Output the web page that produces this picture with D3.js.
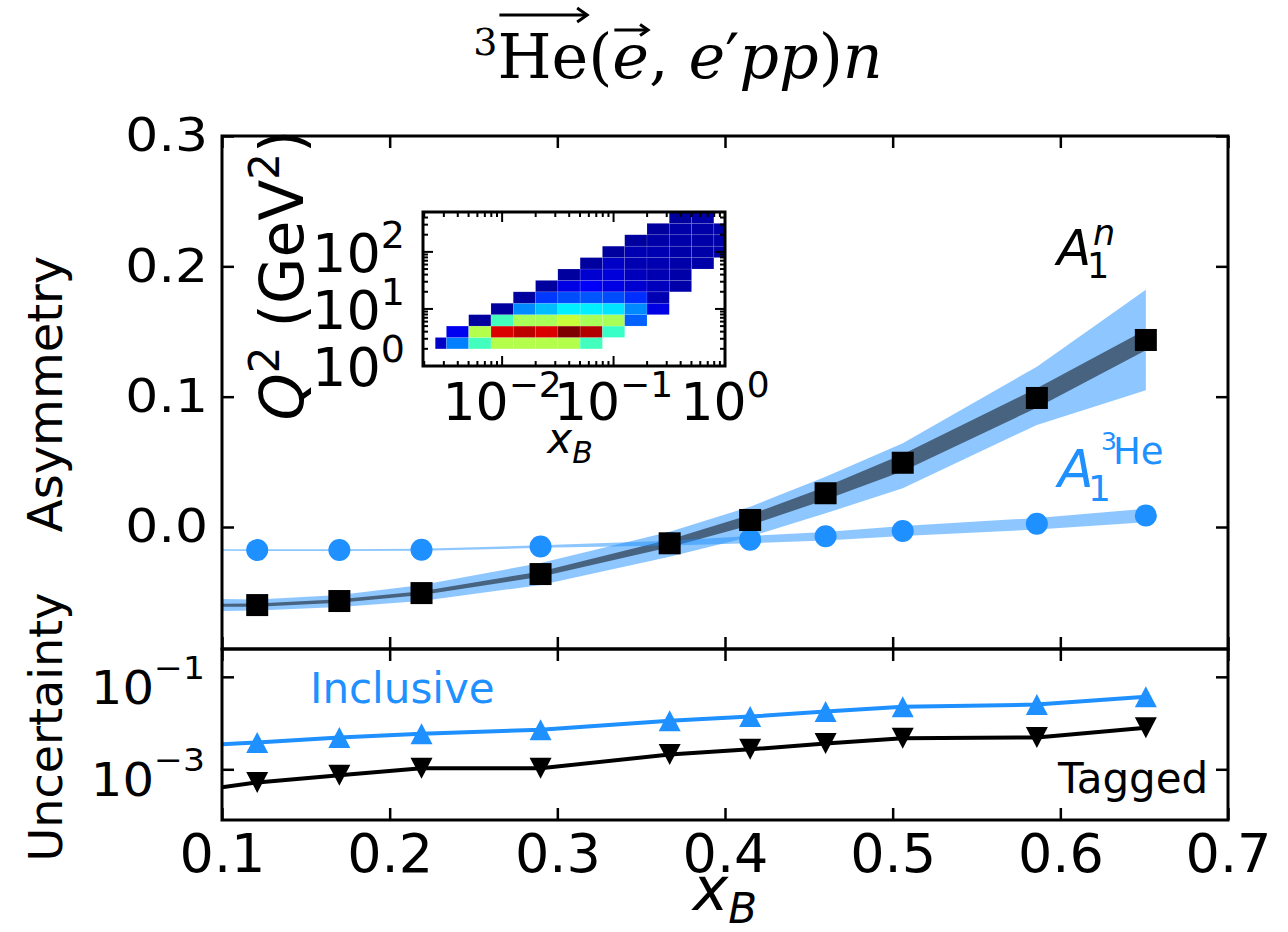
<!DOCTYPE html>
<html>
<head>
<meta charset="utf-8">
<script src="https://cdn.jsdelivr.net/npm/d3@7"></script>
<style>
body { margin: 0; background: #fff; }
text { font-family: "DejaVu Sans", sans-serif; fill: #000; }
</style>
</head>
<body>
<svg width="1288" height="932"></svg>
<script>
// x_B of the measured points
const xB = [0.121, 0.170, 0.219, 0.290, 0.367, 0.415, 0.460, 0.506, 0.586, 0.651];
// curves start at the left frame (x_B = 0.1); first entry of each curve array is that edge value
const xCurve = [0.1].concat(xB);

// upper panel: A1n with its band, A1 3He
const a1n     = [-0.0600, -0.0599, -0.0568, -0.0507, -0.0361, -0.0125, 0.0054, 0.0259, 0.0493, 0.099, 0.1435];
const a1nHi   = [-0.0552, -0.0556, -0.0522, -0.0445, -0.0276, -0.0036, 0.0156, 0.0386, 0.0642, 0.123, 0.182];
const a1nLo   = [-0.0645, -0.0641, -0.0614, -0.0568, -0.0445, -0.0228, -0.0074, 0.0105, 0.0297, 0.0783, 0.105];
const a1nStat = [0.0012, 0.0012, 0.0013, 0.0015, 0.002, 0.003, 0.004, 0.005, 0.0065, 0.0075, 0.0078];
const a1he    = [-0.0177, -0.0177, -0.0177, -0.0175, -0.0150, -0.0123, -0.0097, -0.0071, -0.0031, 0.0025, 0.0088];
const a1heErr = [0.0006, 0.0007, 0.0007, 0.0008, 0.0010, 0.0018, 0.0028, 0.0033, 0.0038, 0.0045, 0.0052];

// lower panel: uncertainties
const inclusive = [0.00347, 0.0038, 0.0049, 0.0059, 0.0072, 0.0112, 0.0138, 0.0178, 0.0224, 0.0251, 0.0372];
const tagged    = [0.00041, 0.00052, 0.00074, 0.00105, 0.00105, 0.0021, 0.0027, 0.0036, 0.0047, 0.0049, 0.0079];

const yTicksUp = [0, 0.1, 0.2, 0.3];
const yTicksLo = [1e-1, 1e-3];
const xTicks = [0.1, 0.2, 0.3, 0.4, 0.5, 0.6, 0.7];

// inset: log10 bin edges and colour level (0..1 on jet) per Q2 row, low to high; null = empty
const xBinLog = [-2.6, -2.5, -2.3, -2.1, -1.9, -1.7, -1.5, -1.3, -1.1, -0.9, -0.7, -0.5, -0.3, -0.1, 0.1];
const qBinLog = [0.3, 0.5, 0.7, 0.9, 1.1, 1.3, 1.5, 1.7, 1.9, 2.1, 2.3, 2.5, 2.7];
const n = null;
const heat = [
  [0.07, 0.25, 0.44, 0.55, 0.55, 0.55, 0.55, 0.44, n, n, n, n, n, n],
  [n, 0.11, 0.55, 0.91, 0.94, 0.91, 1.0, 0.95, 0.43, n, n, n, n, n],
  [n, n, 0.03, 0.44, 0.54, 0.54, 0.57, 0.54, 0.54, 0.22, n, n, n, n],
  [n, n, n, 0.03, 0.26, 0.31, 0.36, 0.36, 0.35, 0.26, 0.10, n, n, n],
  [n, n, n, n, 0.03, 0.18, 0.20, 0.21, 0.20, 0.17, 0.05, n, n, n],
  [n, n, n, n, n, 0.03, 0.10, 0.12, 0.10, 0.08, 0.06, 0.04, n, n],
  [n, n, n, n, n, n, 0.03, 0.08, 0.09, 0.06, 0.05, 0.04, n, n],
  [n, n, n, n, n, n, n, 0.03, 0.07, 0.05, 0.05, 0.04, 0.04, n],
  [n, n, n, n, n, n, n, n, 0.03, 0.05, 0.05, 0.04, 0.04, 0.04],
  [n, n, n, n, n, n, n, n, n, 0.03, 0.04, 0.04, 0.04, 0.04],
  [n, n, n, n, n, n, n, n, n, n, 0.03, 0.04, 0.04, 0.04],
  [n, n, n, n, n, n, n, n, n, n, n, 0.03, 0.04, n]
];

var blue = '#1e90ff';
var svg = d3.select('svg');

var X0 = 222, X1 = 1228, YT = 136, YM = 649, YB = 820;
var x = d3.scaleLinear().domain([0.1, 0.7]).range([X0, X1]);
var yUp = d3.scaleLinear().domain([-0.0936, 0.3]).range([YM, YT]);
var yLo = d3.scaleLog().domain([8e-5, 0.4]).range([YB, YM]);

var defs = svg.append('defs');
defs.append('clipPath').attr('id', 'cu').append('rect')
  .attr('x', X0).attr('y', YT).attr('width', X1 - X0).attr('height', YM - YT);
defs.append('clipPath').attr('id', 'cl').append('rect')
  .attr('x', X0).attr('y', YM).attr('width', X1 - X0).attr('height', YB - YM);

// ---- upper panel
var up = svg.append('g').attr('clip-path', 'url(#cu)');

var band = (lo, hi, ys) => d3.area()
  .x((d, i) => x(xCurve[i]))
  .y0((d, i) => ys(lo[i]))
  .y1((d, i) => ys(hi[i]));

up.append('path').attr('d', band(a1nLo, a1nHi, yUp)(xCurve))
  .attr('fill', blue).attr('fill-opacity', 0.5);
up.append('path')
  .attr('d', band(a1n.map((v, i) => v - a1nStat[i]), a1n.map((v, i) => v + a1nStat[i]), yUp)(xCurve))
  .attr('fill', '#000').attr('fill-opacity', 0.5);
up.append('path')
  .attr('d', band(a1he.map((v, i) => v - a1heErr[i]), a1he.map((v, i) => v + a1heErr[i]), yUp)(xCurve))
  .attr('fill', blue).attr('fill-opacity', 0.5);

up.selectAll('circle.he').data(a1he.slice(1)).enter().append('circle')
  .attr('cx', (d, i) => x(xB[i])).attr('cy', d => yUp(d)).attr('r', 11)
  .attr('fill', blue);
up.selectAll('rect.an').data(a1n.slice(1)).enter().append('rect')
  .attr('x', (d, i) => x(xB[i]) - 11).attr('y', d => yUp(d) - 11)
  .attr('width', 22).attr('height', 22).attr('fill', '#000');

// ---- lower panel
var lo = svg.append('g').attr('clip-path', 'url(#cl)');
var line = d3.line().x((d, i) => x(xCurve[i])).y(d => yLo(d));
var tri = (w, h, dir) => 'M0,' + (-dir * h / 2) + 'L' + (w / 2) + ',' + (dir * h / 2) + 'L' + (-w / 2) + ',' + (dir * h / 2) + 'Z';

[[inclusive, blue, 1], [tagged, '#000', -1]].forEach(s => {
  lo.append('path').attr('d', line(s[0])).attr('fill', 'none')
    .attr('stroke', s[1]).attr('stroke-width', 4);
  lo.selectAll(null).data(s[0].slice(1)).enter().append('path')
    .attr('d', tri(22, 21, s[2]))
    .attr('transform', (d, i) => 'translate(' + x(xB[i]) + ',' + yLo(d) + ')')
    .attr('fill', s[1]);
});

// ---- axes (ticks inward on all sides)
function styleAxis(g) {
  g.select('.domain').remove();
  g.selectAll('.tick line').attr('stroke', '#000').attr('stroke-width', 2.5);
}
svg.append('g').attr('transform', 'translate(' + X0 + ',0)')
  .call(d3.axisLeft(yUp).tickValues(yTicksUp).tickFormat(d3.format('.1f')).tickSize(-12).tickPadding(14))
  .call(styleAxis)
  .selectAll('text').attr('font-size', 46).attr('font-family', 'DejaVu Sans').attr('fill', '#000')
  .attr('x', -14 / 1.13).attr('transform', 'scale(1.13,1)');
svg.append('g').attr('transform', 'translate(' + X1 + ',0)')
  .call(d3.axisRight(yUp).tickValues(yTicksUp).tickFormat('').tickSize(-12)).call(styleAxis);
svg.append('g').attr('transform', 'translate(0,' + YT + ')')
  .call(d3.axisTop(x).tickValues(xTicks).tickFormat('').tickSize(-12)).call(styleAxis);
svg.append('g').attr('transform', 'translate(0,' + YM + ')')
  .call(d3.axisBottom(x).tickValues(xTicks).tickFormat('').tickSize(-12)).call(styleAxis);
svg.append('g').attr('transform', 'translate(0,' + YM + ')')
  .call(d3.axisTop(x).tickValues(xTicks).tickFormat('').tickSize(-12)).call(styleAxis);
svg.append('g').attr('transform', 'translate(0,' + YB + ')')
  .call(d3.axisBottom(x).tickValues(xTicks).tickFormat(d3.format('.1f')).tickSize(-12).tickPadding(14))
  .call(styleAxis)
  .selectAll('text').attr('font-size', 54).attr('font-family', 'DejaVu Sans').attr('fill', '#000');
svg.append('g').attr('transform', 'translate(' + X0 + ',0)')
  .call(d3.axisLeft(yLo).tickValues(yTicksLo).tickFormat('').tickSize(-12)).call(styleAxis);
svg.append('g').attr('transform', 'translate(' + X1 + ',0)')
  .call(d3.axisRight(yLo).tickValues(yTicksLo).tickFormat('').tickSize(-12)).call(styleAxis);

// 10^n labels of the lower panel
yTicksLo.forEach(v => {
  var t = svg.append('g').attr('transform', 'translate(205,' + (yLo(v) + 27) + ') scale(1.08,1)')
    .append('text').attr('text-anchor', 'end').attr('font-size', 46);
  t.append('tspan').text('10');
  t.append('tspan').attr('font-size', 32).attr('dy', -25).text('\u2212' + Math.round(-Math.log10(v)));
});

// frames
[[YT, YM], [YM, YB]].forEach(p => {
  svg.append('rect').attr('x', X0).attr('y', p[0]).attr('width', X1 - X0).attr('height', p[1] - p[0])
    .attr('fill', 'none').attr('stroke', '#000').attr('stroke-width', 3);
});

// axis titles
svg.append('text').attr('transform', 'translate(62,394) rotate(-90)')
  .attr('text-anchor', 'middle').attr('font-size', 48).text('Asymmetry');
svg.append('text').attr('transform', 'translate(62,727) rotate(-90)')
  .attr('text-anchor', 'middle').attr('font-size', 46).text('Uncertainty');
var xl = svg.append('text').attr('x', 725).attr('y', 910).attr('text-anchor', 'middle').attr('font-size', 60);
xl.append('tspan').attr('font-style', 'italic').text('x');
xl.append('tspan').attr('font-style', 'italic').attr('font-size', 42).attr('dy', 13).text('B');

// series labels
svg.append('text').attr('x', 310).attr('y', 703).attr('font-size', 42).style('fill', blue).text('Inclusive');
svg.append('text').attr('x', 1058).attr('y', 793).attr('font-size', 42).text('Tagged');

var an = svg.append('g').attr('transform', 'translate(1057,265)');
an.append('text').attr('font-size', 50).attr('font-style', 'italic').text('A');
an.append('text').attr('x', 30).attr('y', 13).attr('font-size', 35).text('1');
an.append('text').attr('x', 36).attr('y', -20).attr('font-size', 35).attr('font-style', 'italic').text('n');

var ah = svg.append('g').attr('transform', 'translate(1058,487)');
ah.append('text').attr('font-size', 52).attr('font-style', 'italic').style('fill', blue).text('A');
ah.append('text').attr('x', 30).attr('y', 14).attr('font-size', 36).style('fill', blue).text('1');
ah.append('text').attr('x', 43).attr('y', -37).attr('font-size', 25).style('fill', blue).text('3');
ah.append('text').attr('x', 55).attr('y', -23).attr('font-size', 37).style('fill', blue).text('He');

// ---- inset histogram
var IX0 = 423, IX1 = 725, IY0 = 212, IY1 = 366;
var xi = d3.scaleLog().domain([0.00195, 1]).range([IX0, IX1]);
var yi = d3.scaleLog().domain([1, 500]).range([IY1, IY0]);
var jet = d3.scaleLinear().domain([0, 0.125, 0.375, 0.625, 0.875, 1])
  .range(['#00007f', '#0000ff', '#00ffff', '#ffff00', '#ff0000', '#7f0000']).clamp(true);

defs.append('clipPath').attr('id', 'ci').append('rect')
  .attr('x', IX0).attr('y', IY0).attr('width', IX1 - IX0).attr('height', IY1 - IY0);
var cells = [];
heat.forEach((row, r) => row.forEach((v, c) => { if (v !== null) cells.push({ r: r, c: c, v: v }); }));
svg.append('g').attr('clip-path', 'url(#ci)').selectAll('rect').data(cells).enter().append('rect')
  .attr('x', d => xi(Math.pow(10, xBinLog[d.c])))
  .attr('y', d => yi(Math.pow(10, qBinLog[d.r + 1])))
  .attr('width', d => xi(Math.pow(10, xBinLog[d.c + 1])) - xi(Math.pow(10, xBinLog[d.c])))
  .attr('height', d => yi(Math.pow(10, qBinLog[d.r])) - yi(Math.pow(10, qBinLog[d.r + 1])))
  .attr('fill', d => jet(d.v))
  .attr('stroke', '#fff').attr('stroke-opacity', 0.2).attr('stroke-width', 0.6);

// inset ticks
var ig = svg.append('g').attr('stroke', '#000');
function logTicks(lo, hi) {
  var out = [];
  for (var e = Math.floor(Math.log10(lo)); e <= Math.ceil(Math.log10(hi)); e++) {
    for (var m = 1; m < 10; m++) {
      var v = m * Math.pow(10, e);
      if (v >= lo * 0.999 && v <= hi * 1.001) out.push({ v: v, major: m === 1 });
    }
  }
  return out;
}
logTicks(0.00195, 1).forEach(t => {
  var L = t.major ? 10 : 5, px = xi(t.v);
  ig.append('line').attr('x1', px).attr('x2', px).attr('y1', IY1).attr('y2', IY1 - L).attr('stroke-width', 2);
  ig.append('line').attr('x1', px).attr('x2', px).attr('y1', IY0).attr('y2', IY0 + L).attr('stroke-width', 2);
});
logTicks(1, 500).forEach(t => {
  var L = t.major ? 10 : 5, py = yi(t.v);
  ig.append('line').attr('y1', py).attr('y2', py).attr('x1', IX0).attr('x2', IX0 + L).attr('stroke-width', 2);
  ig.append('line').attr('y1', py).attr('y2', py).attr('x1', IX1).attr('x2', IX1 - L).attr('stroke-width', 2);
});
svg.append('rect').attr('x', IX0).attr('y', IY0).attr('width', IX1 - IX0).attr('height', IY1 - IY0)
  .attr('fill', 'none').attr('stroke', '#000').attr('stroke-width', 3);

[0, 1, 2].forEach(e => {
  var t = svg.append('text').attr('x', 405).attr('y', yi(Math.pow(10, e)) + 20)
    .attr('text-anchor', 'end').attr('font-size', 54);
  t.append('tspan').text('10');
  t.append('tspan').attr('font-size', 38).attr('dy', -24).text(e);
});
[-2, -1, 0].forEach(e => {
  var t = svg.append('text').attr('x', xi(Math.pow(10, e))).attr('y', 420)
    .attr('text-anchor', 'middle').attr('font-size', 52);
  t.append('tspan').text('10');
  t.append('tspan').attr('font-size', 36).attr('dy', -23).text(e < 0 ? '\u2212' + (-e) : e);
});
var il = svg.append('text').attr('x', 570).attr('y', 453).attr('text-anchor', 'middle').attr('font-size', 42);
il.append('tspan').attr('font-style', 'italic').text('x');
il.append('tspan').attr('font-style', 'italic').attr('font-size', 30).attr('dy', 10).text('B');

var ql = svg.append('text').attr('transform', 'translate(303,275) rotate(-90)')
  .attr('text-anchor', 'middle').attr('font-size', 60);
ql.append('tspan').attr('font-style', 'italic').text('Q');
ql.append('tspan').attr('font-size', 42).attr('dy', -24).text('2');
ql.append('tspan').attr('dy', 24).text(' (GeV');
ql.append('tspan').attr('font-size', 42).attr('dy', -24).text('2');
ql.append('tspan').attr('dy', 24).text(')');

// ---- title
var title = svg.append('text').attr('x', 678).attr('y', 78).attr('text-anchor', 'middle')
  .attr('font-size', 62).style('font-family', '"DejaVu Serif", serif');
title.append('tspan').attr('font-size', 38).attr('dy', -23).text('3');
title.append('tspan').attr('dy', 23).text('He');
title.append('tspan').text('(');
title.append('tspan').attr('font-style', 'italic').text('e');
title.append('tspan').text(', ');
title.append('tspan').attr('font-style', 'italic').text('e');
title.append('tspan').text('\u2032');
title.append('tspan').attr('font-style', 'italic').text('pp');
title.append('tspan').text(')');
title.append('tspan').attr('font-style', 'italic').text('n');

var tn = title.node();
function arrow(i0, i1, y, head) {
  var a = tn.getExtentOfChar(i0), b = tn.getExtentOfChar(i1);
  var xa = a.x + 2, xb = b.x + b.width - 1;
  svg.append('line').attr('x1', xa).attr('x2', xb).attr('y1', y).attr('y2', y)
    .attr('stroke', '#000').attr('stroke-width', 3);
  svg.append('path').attr('d', 'M' + (xb - head) + ',' + (y - head * 0.7) + 'L' + xb + ',' + y + 'L' + (xb - head) + ',' + (y + head * 0.7))
    .attr('fill', 'none').attr('stroke', '#000').attr('stroke-width', 3);
}
arrow(1, 2, 15, 10);
arrow(4, 4, 30, 8);
</script>
</body>
</html>
